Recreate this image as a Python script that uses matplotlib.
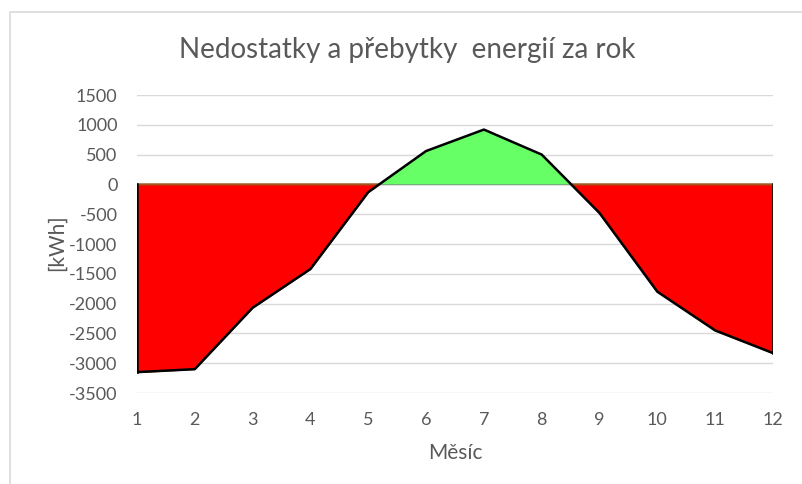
import matplotlib
matplotlib.use("Agg")
import matplotlib.pyplot as plt
import numpy as np
from matplotlib.patches import Rectangle

months = [1, 2, 3, 4, 5, 6, 7, 8, 9, 10, 11, 12]
balance = [-3150, -3100, -2070, -1420, -130, 560, 920, 500, -480, -1800, -2450, -2830]
yticks = [1500, 1000, 500, 0, -500, -1000, -1500, -2000, -2500, -3000, -3500]

title = "Nedostatky a přebytky  energií za rok"
xlabel = "Měsíc"
ylabel = "[kWh]"

plt.rcParams['font.family'] = ['Lato', 'DejaVu Sans']
plt.rcParams['axes.unicode_minus'] = False
txt = '#595959'

fig = plt.figure(figsize=(8.02, 4.84), dpi=100)
W, H = 802, 484
ax = fig.add_axes([137 / W, 1 - 393 / H, 636 / W, 298 / H])

x = np.array(months, dtype=float)
y = np.array(balance, dtype=float)

ax.set_xlim(1, 12)
ax.set_ylim(-3500, 1500)
ax.set_yticks(yticks)
ax.set_xticks(months)
ax.yaxis.grid(True, color='#d9d9d9', lw=1)
ax.set_axisbelow(True)
for s in ax.spines.values():
    s.set_visible(False)
ax.tick_params(length=0, labelsize=13, colors=txt)
ax.tick_params(axis='y', pad=14)
ax.tick_params(axis='x', pad=14)

ax.axhline(0, color='#808080', lw=1, zorder=2)
ax.fill_between(x, y, 0, where=y <= 0, interpolate=True, facecolor='#ff0000',
                edgecolor='#a0561e', lw=1.5, zorder=3)
ax.fill_between(x, y, 0, where=y >= 0, interpolate=True, facecolor='#66ff66',
                edgecolor='none', zorder=3)
ax.plot(x, y, color='black', lw=1.8, zorder=4)
ax.plot([x[0], x[0]], [0, y[0]], color='black', lw=1.8, zorder=4)
ax.plot([x[-1], x[-1]], [0, y[-1]], color='black', lw=1.8, zorder=4)

fig.text(407 / W, 1 - 50 / H, title, ha='center', va='center', fontsize=20, color=txt)
fig.text(455 / W, 1 - 453 / H, xlabel, ha='center', va='center', fontsize=15, color=txt)
fig.text(57 / W, 1 - 243 / H, ylabel, ha='center', va='center', fontsize=15, color=txt, rotation=90)

fig.patches.append(Rectangle((10 / W, -0.1), 1.2, 1 - 12 / H + 0.1, transform=fig.transFigure,
                             fill=False, edgecolor='#d9d9d9', lw=1.2))

fig.savefig("out.png", dpi=100)
